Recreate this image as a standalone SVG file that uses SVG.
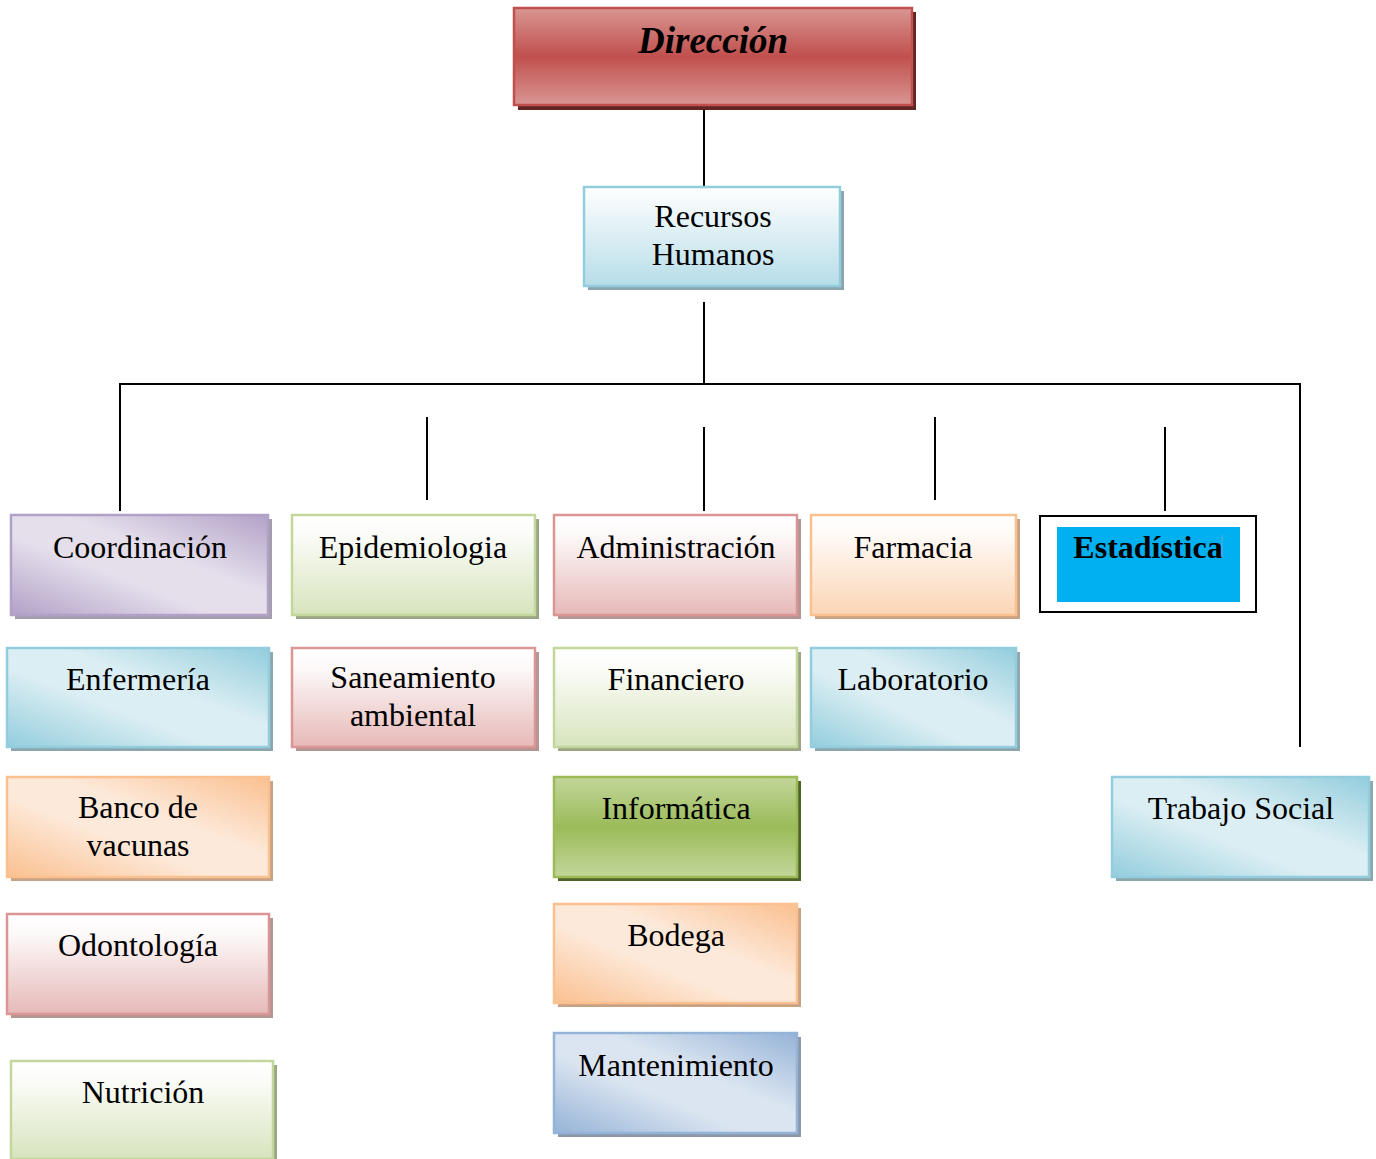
<svg xmlns="http://www.w3.org/2000/svg" width="1376" height="1159" viewBox="0 0 1376 1159">
<defs>
<linearGradient id="gDir" x1="0" y1="0" x2="0" y2="1"><stop offset="0" stop-color="#d99694"/><stop offset="0.5" stop-color="#c0504d"/><stop offset="1" stop-color="#d99694"/></linearGradient>
<linearGradient id="gInf" x1="0" y1="0" x2="0" y2="1"><stop offset="0" stop-color="#c3d69b"/><stop offset="0.5" stop-color="#9bbb59"/><stop offset="1" stop-color="#c3d69b"/></linearGradient>
<linearGradient id="gBlueV" x1="0" y1="0" x2="0" y2="1"><stop offset="0" stop-color="#ffffff"/><stop offset="1" stop-color="#b7dde8"/></linearGradient>
<linearGradient id="gGreenV" x1="0" y1="0" x2="0" y2="1"><stop offset="0" stop-color="#ffffff"/><stop offset="0.2" stop-color="#fbfcf8"/><stop offset="1" stop-color="#d7e4bd"/></linearGradient>
<linearGradient id="gPinkV" x1="0" y1="0" x2="0" y2="1"><stop offset="0" stop-color="#ffffff"/><stop offset="0.2" stop-color="#fdf9f9"/><stop offset="1" stop-color="#e6b9b8"/></linearGradient>
<linearGradient id="gOrangeV" x1="0" y1="0" x2="0" y2="1"><stop offset="0" stop-color="#ffffff"/><stop offset="0.2" stop-color="#fffaf6"/><stop offset="1" stop-color="#fbd5b5"/></linearGradient>
<linearGradient id="gPurpleD" x1="1" y1="0" x2="0" y2="1"><stop offset="0" stop-color="#b2a1c7"/><stop offset="0.4" stop-color="#e5dfec"/><stop offset="0.6" stop-color="#e5dfec"/><stop offset="1" stop-color="#b2a1c7"/></linearGradient>
<linearGradient id="gBlueD" x1="1" y1="0" x2="0" y2="1"><stop offset="0" stop-color="#93cddd"/><stop offset="0.4" stop-color="#dbeef3"/><stop offset="0.6" stop-color="#dbeef3"/><stop offset="1" stop-color="#93cddd"/></linearGradient>
<linearGradient id="gOrangeD" x1="1" y1="0" x2="0" y2="1"><stop offset="0" stop-color="#fac090"/><stop offset="0.4" stop-color="#fde9d9"/><stop offset="0.6" stop-color="#fde9d9"/><stop offset="1" stop-color="#fac090"/></linearGradient>
<linearGradient id="gSteelD" x1="1" y1="0" x2="0" y2="1"><stop offset="0" stop-color="#95b3d7"/><stop offset="0.4" stop-color="#dbe5f1"/><stop offset="0.6" stop-color="#dbe5f1"/><stop offset="1" stop-color="#95b3d7"/></linearGradient>
</defs>
<style>
text{font-family:"Liberation Serif","Times New Roman",serif;font-size:32px;fill:#000;text-anchor:middle}
.b{stroke-width:2.5}
.conn line{stroke:#000;stroke-width:2}
</style>
<rect width="1376" height="1159" fill="#ffffff"/>
<g class="conn" id="connectors">
<line x1="704" y1="105" x2="704" y2="187"/>
<line x1="704" y1="302" x2="704" y2="384"/>
<line x1="119" y1="384" x2="1301" y2="384"/>
<line x1="120" y1="383" x2="120" y2="511"/>
<line x1="427" y1="417" x2="427" y2="500"/>
<line x1="704" y1="427" x2="704" y2="511"/>
<line x1="935" y1="417" x2="935" y2="500"/>
<line x1="1165" y1="427" x2="1165" y2="511"/>
<line x1="1300" y1="383" x2="1300" y2="747"/>
</g>
<g id="direccion">
<rect x="518" y="12" width="398" height="98" fill="#632523"/>
<rect x="514" y="8" width="398" height="97" fill="url(#gDir)" stroke="#c0504d" class="b"/>
<text x="713" y="53" style="font-weight:bold;font-style:italic;font-size:37px">Dirección</text>
</g>
<g id="recursos">
<rect x="588" y="191" width="256" height="99" fill="#8aa5ae"/>
<rect x="584" y="187" width="256" height="99" fill="url(#gBlueV)" stroke="#93cddd" class="b"/>
<text x="713" y="227">Recursos</text><text x="713" y="265">Humanos</text>
</g>
<g id="coordinacion">
<rect x="15" y="519" width="257" height="100" fill="#a39ead"/>
<rect x="11" y="515" width="257" height="100" fill="url(#gPurpleD)" stroke="#b2a1c7" class="b"/>
<text x="140" y="558">Coordinación</text>
</g>
<g id="epidemiologia">
<rect x="296" y="519" width="243" height="100" fill="#9aa583"/>
<rect x="292" y="515" width="243" height="100" fill="url(#gGreenV)" stroke="#c3d69b" class="b"/>
<text x="413" y="558">Epidemiologia</text>
</g>
<g id="administracion">
<rect x="558" y="519" width="243" height="100" fill="#b39594"/>
<rect x="554" y="515" width="243" height="100" fill="url(#gPinkV)" stroke="#d99694" class="b"/>
<text x="676" y="558">Administración</text>
</g>
<g id="farmacia">
<rect x="815" y="519" width="205" height="100" fill="#c9a283"/>
<rect x="811" y="515" width="205" height="100" fill="url(#gOrangeV)" stroke="#fac090" class="b"/>
<text x="913" y="558">Farmacia</text>
</g>
<g id="estadistica">
<rect x="1040" y="516" width="216" height="96" fill="#ffffff" stroke="#000" stroke-width="2"/>
<rect x="1057" y="527" width="183" height="75" fill="#00b0f0"/>
<text x="1148" y="558" style="font-weight:bold">Estadística</text>
<line x1="1222" y1="535" x2="1222" y2="558" stroke="#6fa8c8" stroke-width="1"/>
</g>
<g id="enfermeria">
<rect x="11" y="652" width="262" height="99" fill="#8ba6ad"/>
<rect x="7" y="648" width="262" height="99" fill="url(#gBlueD)" stroke="#93cddd" class="b"/>
<text x="138" y="690">Enfermería</text>
</g>
<g id="saneamiento">
<rect x="296" y="652" width="243" height="99" fill="#b39594"/>
<rect x="292" y="648" width="243" height="99" fill="url(#gPinkV)" stroke="#d99694" class="b"/>
<text x="413" y="688">Saneamiento</text><text x="413" y="726">ambiental</text>
</g>
<g id="financiero">
<rect x="558" y="652" width="243" height="99" fill="#9aa583"/>
<rect x="554" y="648" width="243" height="99" fill="url(#gGreenV)" stroke="#c3d69b" class="b"/>
<text x="676" y="690">Financiero</text>
</g>
<g id="laboratorio">
<rect x="815" y="652" width="205" height="99" fill="#8ba6ad"/>
<rect x="811" y="648" width="205" height="99" fill="url(#gBlueD)" stroke="#93cddd" class="b"/>
<text x="913" y="690">Laboratorio</text>
</g>
<g id="banco">
<rect x="11" y="781" width="262" height="100" fill="#c9a283"/>
<rect x="7" y="777" width="262" height="100" fill="url(#gOrangeD)" stroke="#fac090" class="b"/>
<text x="138" y="818">Banco de</text><text x="138" y="856">vacunas</text>
</g>
<g id="informatica">
<rect x="558" y="781" width="243" height="100" fill="#4f6228"/>
<rect x="554" y="777" width="243" height="100" fill="url(#gInf)" stroke="#9bbb59" class="b"/>
<text x="676" y="819">Informática</text>
</g>
<g id="trabajo">
<rect x="1116" y="781" width="257" height="100" fill="#8ba6ad"/>
<rect x="1112" y="777" width="257" height="100" fill="url(#gBlueD)" stroke="#93cddd" class="b"/>
<text x="1241" y="819">Trabajo Social</text>
</g>
<g id="odontologia">
<rect x="11" y="918" width="262" height="100" fill="#b39594"/>
<rect x="7" y="914" width="262" height="100" fill="url(#gPinkV)" stroke="#d99694" class="b"/>
<text x="138" y="956">Odontología</text>
</g>
<g id="bodega">
<rect x="558" y="908" width="243" height="99" fill="#c9a283"/>
<rect x="554" y="904" width="243" height="99" fill="url(#gOrangeD)" stroke="#fac090" class="b"/>
<text x="676" y="946">Bodega</text>
</g>
<g id="mantenimiento">
<rect x="558" y="1037" width="243" height="100" fill="#8a98aa"/>
<rect x="554" y="1033" width="243" height="100" fill="url(#gSteelD)" stroke="#95b3d7" class="b"/>
<text x="676" y="1076">Mantenimiento</text>
</g>
<g id="nutricion">
<rect x="15" y="1065" width="262" height="100" fill="#9aa583"/>
<rect x="11" y="1061" width="262" height="98" fill="url(#gGreenV)" stroke="#c3d69b" class="b"/>
<text x="143" y="1103">Nutrición</text>
</g>
</svg>
